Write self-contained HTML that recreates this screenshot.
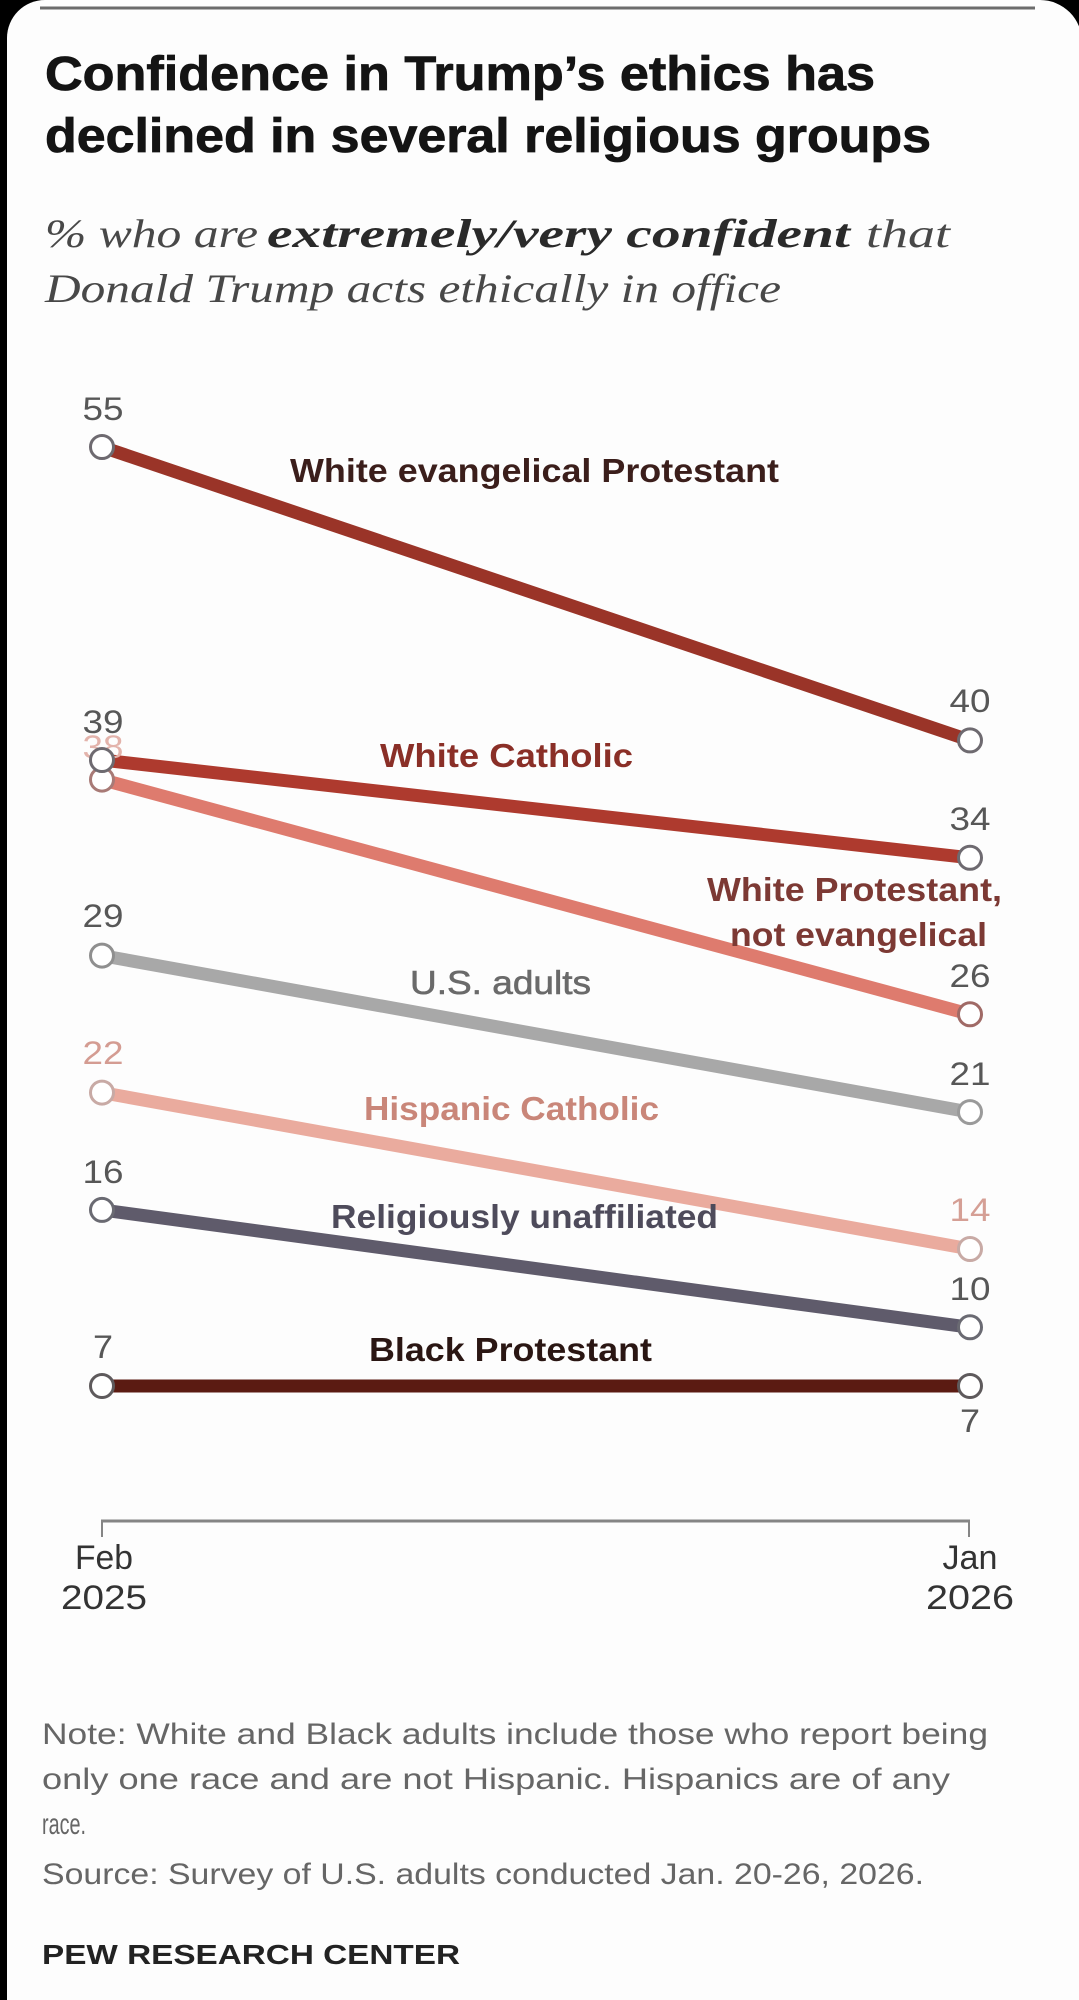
<!DOCTYPE html>
<html>
<head>
<meta charset="utf-8">
<style>
html,body{margin:0;padding:0;background:#000;}
svg{display:block;}
</style>
</head>
<body>
<svg width="1079" height="2000" viewBox="0 0 1079 2000" xmlns="http://www.w3.org/2000/svg">
  <rect x="0" y="0" width="1079" height="2000" fill="#000"/>
  <path d="M7,38 A38,38 0 0 1 45,0 H1040 A42,42 0 0 1 1082,42 V2000 H7 Z" fill="#fdfdfd"/>
  <line x1="40" y1="8" x2="1035" y2="8" stroke="#6c6c6c" stroke-width="3"/>

  <!-- Title -->
  <g font-family="Liberation Sans, Arial, sans-serif" font-weight="bold" font-size="48" fill="#141414" stroke="#141414" stroke-width="0.8">
    <text x="45" y="90" textLength="830" lengthAdjust="spacingAndGlyphs">Confidence in Trump’s ethics has</text>
    <text x="45" y="152" textLength="886" lengthAdjust="spacingAndGlyphs">declined in several religious groups</text>
  </g>

  <!-- Subtitle -->
  <g font-family="Liberation Serif, Times New Roman, serif" font-style="italic" font-size="40">
    <text x="45" y="247" fill="#484848" textLength="213" lengthAdjust="spacingAndGlyphs">% who are</text>
    <text x="267" y="247" fill="#2a2a2a" font-weight="bold" textLength="583" lengthAdjust="spacingAndGlyphs">extremely/very confident</text>
    <text x="866" y="247" fill="#484848" textLength="84" lengthAdjust="spacingAndGlyphs">that</text>
    <text x="45" y="302" fill="#484848" textLength="736" lengthAdjust="spacingAndGlyphs">Donald Trump acts ethically in office</text>
  </g>

  <!-- Series lines -->
  <g stroke-width="13" stroke-linecap="butt" fill="none">
    <line x1="102" y1="447" x2="970" y2="740.4" stroke="#9a3428"/>
    <line x1="102" y1="779.6" x2="970" y2="1014.3" stroke="#de7b6e"/>
    <line x1="102" y1="760" x2="970" y2="857.8" stroke="#ae3a2e"/>
    <line x1="102" y1="955.6" x2="970" y2="1112.1" stroke="#a8a8a8"/>
    <line x1="102" y1="1092.6" x2="970" y2="1249" stroke="#eaab9e"/>
    <line x1="102" y1="1209.9" x2="970" y2="1327.3" stroke="#5f5b6b"/>
    <line x1="102" y1="1386" x2="970" y2="1386" stroke="#5b1b12"/>
  </g>

  <!-- Series labels -->
  <g font-family="Liberation Sans, Arial, sans-serif" font-size="33" font-weight="bold">
    <text x="290" y="482" fill="#3b1e1b" textLength="489" lengthAdjust="spacingAndGlyphs">White evangelical Protestant</text>
    <text x="380" y="767" fill="#8a2f27" textLength="253" lengthAdjust="spacingAndGlyphs">White Catholic</text>
    <text x="707" y="901" fill="#7c3934" textLength="295" lengthAdjust="spacingAndGlyphs">White Protestant,</text>
    <text x="730" y="946" fill="#7c3934" textLength="257" lengthAdjust="spacingAndGlyphs">not evangelical</text>
    <text x="410" y="994" fill="#6a6a6a" font-weight="normal" stroke="#6a6a6a" stroke-width="0.6" textLength="181" lengthAdjust="spacingAndGlyphs">U.S. adults</text>
    <text x="364" y="1120" fill="#c98679" textLength="295" lengthAdjust="spacingAndGlyphs">Hispanic Catholic</text>
    <text x="331" y="1228" fill="#4e4b5b" textLength="387" lengthAdjust="spacingAndGlyphs">Religiously unaffiliated</text>
    <text x="369" y="1361" fill="#2a1613" textLength="283" lengthAdjust="spacingAndGlyphs">Black Protestant</text>
  </g>

  <!-- Value labels -->
  <g font-family="Liberation Sans, Arial, sans-serif" font-size="32" text-anchor="middle" fill="#575757">
    <text x="103" y="420" textLength="41" lengthAdjust="spacingAndGlyphs">55</text>
    <text x="103" y="758" fill="#e3b3ab" textLength="41" lengthAdjust="spacingAndGlyphs">38</text>
    <text x="103" y="733" textLength="41" lengthAdjust="spacingAndGlyphs">39</text>
    <text x="103" y="927" textLength="41" lengthAdjust="spacingAndGlyphs">29</text>
    <text x="103" y="1064" fill="#d49c92" textLength="41" lengthAdjust="spacingAndGlyphs">22</text>
    <text x="103" y="1183" textLength="41" lengthAdjust="spacingAndGlyphs">16</text>
    <text x="103" y="1358" textLength="20" lengthAdjust="spacingAndGlyphs">7</text>
    <text x="970" y="712" textLength="41" lengthAdjust="spacingAndGlyphs">40</text>
    <text x="970" y="830" textLength="41" lengthAdjust="spacingAndGlyphs">34</text>
    <text x="970" y="987" textLength="41" lengthAdjust="spacingAndGlyphs">26</text>
    <text x="970" y="1085" textLength="41" lengthAdjust="spacingAndGlyphs">21</text>
    <text x="970" y="1221" fill="#d59f95" textLength="41" lengthAdjust="spacingAndGlyphs">14</text>
    <text x="970" y="1300" textLength="41" lengthAdjust="spacingAndGlyphs">10</text>
    <text x="970" y="1432" textLength="20" lengthAdjust="spacingAndGlyphs">7</text>
  </g>

  <!-- Markers -->
  <g fill="#ffffff" stroke-width="3">
    <circle cx="102" cy="447" r="11.5" stroke="#6e6a70"/>
    <circle cx="970" cy="740.4" r="11.5" stroke="#6e6a70"/>
    <circle cx="102" cy="779.6" r="11.5" stroke="#a87a76"/>
    <circle cx="970" cy="1014.3" r="11.5" stroke="#a06a66"/>
    <circle cx="102" cy="760" r="11.5" stroke="#6e6a70"/>
    <circle cx="970" cy="857.8" r="11.5" stroke="#6e6a70"/>
    <circle cx="102" cy="955.6" r="11.5" stroke="#8f8f8f"/>
    <circle cx="970" cy="1112.1" r="11.5" stroke="#9a9a9a"/>
    <circle cx="102" cy="1092.6" r="11.5" stroke="#c8aaa5"/>
    <circle cx="970" cy="1249" r="11.5" stroke="#c8aaa5"/>
    <circle cx="102" cy="1209.9" r="11.5" stroke="#6a6a72"/>
    <circle cx="970" cy="1327.3" r="11.5" stroke="#6a6a72"/>
    <circle cx="102" cy="1386" r="11.5" stroke="#5e5a5c"/>
    <circle cx="970" cy="1386" r="11.5" stroke="#5e5a5c"/>
  </g>

  <!-- Axis -->
  <g stroke="#858585" fill="none">
    <line x1="101" y1="1521" x2="970" y2="1521" stroke-width="3"/>
    <line x1="102" y1="1520" x2="102" y2="1537" stroke-width="2"/>
    <line x1="969" y1="1520" x2="969" y2="1537" stroke-width="2"/>
  </g>
  <g font-family="Liberation Sans, Arial, sans-serif" font-size="34" text-anchor="middle" fill="#333">
    <text x="104" y="1569" textLength="58" lengthAdjust="spacingAndGlyphs">Feb</text>
    <text x="104" y="1609" textLength="86" lengthAdjust="spacingAndGlyphs">2025</text>
    <text x="970" y="1569" textLength="55" lengthAdjust="spacingAndGlyphs">Jan</text>
    <text x="970" y="1609" textLength="88" lengthAdjust="spacingAndGlyphs">2026</text>
  </g>

  <!-- Notes -->
  <g font-family="Liberation Sans, Arial, sans-serif" font-size="30" fill="#666">
    <text x="42" y="1744" textLength="946" lengthAdjust="spacingAndGlyphs">Note: White and Black adults include those who report being</text>
    <text x="42" y="1789" textLength="908" lengthAdjust="spacingAndGlyphs">only one race and are not Hispanic. Hispanics are of any</text>
    <text x="42" y="1834" textLength="44" lengthAdjust="spacingAndGlyphs">race.</text>
    <text x="42" y="1884" textLength="882" lengthAdjust="spacingAndGlyphs">Source: Survey of U.S. adults conducted Jan. 20-26, 2026.</text>
  </g>
  <text x="42" y="1964" font-family="Liberation Sans, Arial, sans-serif" font-size="28" font-weight="bold" fill="#222" textLength="418" lengthAdjust="spacingAndGlyphs">PEW RESEARCH CENTER</text>
</svg>
</body>
</html>
